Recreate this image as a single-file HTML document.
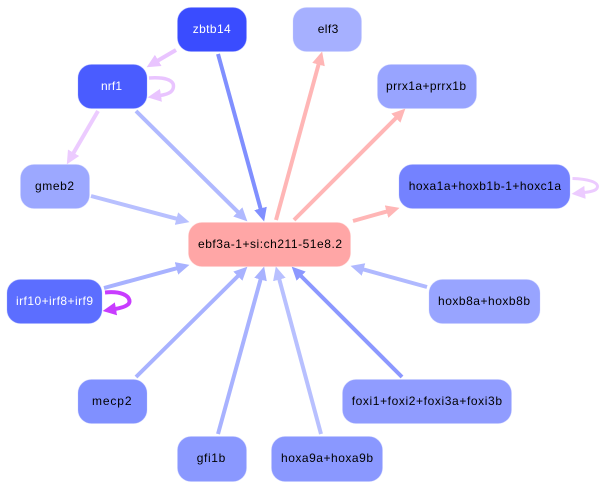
<!DOCTYPE html>
<html><head><meta charset="utf-8"><style>
html,body{margin:0;padding:0;background:#fff}
svg{display:block}
text{font-family:"Liberation Sans",sans-serif;font-size:12px;fill:#000}
rect{stroke-width:1;stroke-opacity:.3}
</style></head><body>
<svg width="601" height="489" viewBox="0 0 601 489" xmlns="http://www.w3.org/2000/svg">
<defs>
<marker id="a1" markerUnits="userSpaceOnUse" markerWidth="15" markerHeight="16" refX="1" refY="8" orient="auto"><path d="M0 1.500L13.500 8L0 14.500z" fill="#e9c4ff"/></marker>
<marker id="a2" markerUnits="userSpaceOnUse" markerWidth="15" markerHeight="16" refX="1" refY="8" orient="auto"><path d="M0 1.500L13.500 8L0 14.500z" fill="#808fff"/></marker>
<marker id="a3" markerUnits="userSpaceOnUse" markerWidth="15" markerHeight="16" refX="1" refY="8" orient="auto"><path d="M0 1.500L13.500 8L0 14.500z" fill="#b0b9ff"/></marker>
<marker id="a4" markerUnits="userSpaceOnUse" markerWidth="15" markerHeight="16" refX="1" refY="8" orient="auto"><path d="M0 1.500L13.500 8L0 14.500z" fill="#eccbff"/></marker>
<marker id="a5" markerUnits="userSpaceOnUse" markerWidth="15" markerHeight="16" refX="1" refY="8" orient="auto"><path d="M0 1.500L13.500 8L0 14.500z" fill="#b8c0ff"/></marker>
<marker id="a6" markerUnits="userSpaceOnUse" markerWidth="15" markerHeight="16" refX="1" refY="8" orient="auto"><path d="M0 1.500L13.500 8L0 14.500z" fill="#ffb6b6"/></marker>
<marker id="a7" markerUnits="userSpaceOnUse" markerWidth="15" markerHeight="16" refX="1" refY="8" orient="auto"><path d="M0 1.500L13.500 8L0 14.500z" fill="#a8b2ff"/></marker>
<marker id="a8" markerUnits="userSpaceOnUse" markerWidth="15" markerHeight="16" refX="1" refY="8" orient="auto"><path d="M0 1.500L13.500 8L0 14.500z" fill="#8c98ff"/></marker>
<marker id="a9" markerUnits="userSpaceOnUse" markerWidth="15" markerHeight="16" refX="1" refY="8" orient="auto"><path d="M0 1.500L13.500 8L0 14.500z" fill="#c83cff"/></marker>
</defs>

<g fill="none" stroke-width="4">
<path d="M176 50L157.4 60.9" stroke="#e9c4ff" marker-end="url(#a1)"/>
<path d="M218 54L260.8 209.4" stroke="#808fff" marker-end="url(#a2)"/>
<path d="M136 111L238.5 212.6" stroke="#b0b9ff" marker-end="url(#a3)"/>
<path d="M98 111L73.1 153.6" stroke="#eccbff" marker-end="url(#a4)"/>
<path d="M91 196L177.4 218.9" stroke="#b8c0ff" marker-end="url(#a5)"/>
<path d="M276 220L318.8 63.6" stroke="#ffb6b6" marker-end="url(#a6)"/>
<path d="M294 220L396.5 117.5" stroke="#ffb6b6" marker-end="url(#a6)"/>
<path d="M353 221L387.5 211.3" stroke="#ffb6b6" marker-end="url(#a6)"/>
<path d="M104 288L177.4 268.1" stroke="#a8b2ff" marker-end="url(#a7)"/>
<path d="M136 377L238.5 275.5" stroke="#a8b2ff" marker-end="url(#a7)"/>
<path d="M218 434L260.8 278.6" stroke="#a8b2ff" marker-end="url(#a7)"/>
<path d="M321 434L279.1 278.6" stroke="#b8c0ff" marker-end="url(#a5)"/>
<path d="M402 377L300.5 275.5" stroke="#8c98ff" marker-end="url(#a8)"/>
<path d="M427 287L362.6 269.2" stroke="#b0b9ff" marker-end="url(#a3)"/>
<path d="M149 78C165 77 173.500 80 173.500 86C173.500 91 170 94 160 95.500" stroke="#e9c4ff" stroke-width="3.500" marker-end="url(#a1)"/>
<path d="M572.500 178.500C588 179 597.500 182 597.500 186.500C597.500 190 593 191.500 584 192.500" stroke="#eccbff" stroke-width="3" marker-end="url(#a4)"/>
<path d="M105 292.500C120 291 129.500 295 129.500 301.500C129.500 305 124 307.500 115 309" stroke="#c83cff" stroke-width="4" marker-end="url(#a9)"/>
</g>

<rect x="177.5" y="7.5" width="69" height="44" rx="13.5" fill="#3a4cff" stroke="#8a96ff"/>
<rect x="78" y="64.5" width="69" height="44" rx="13.5" fill="#4a5cff" stroke="#929eff"/>
<rect x="20.5" y="164.5" width="69" height="44" rx="13.5" fill="#9ca8ff" stroke="#c4cbff"/>
<rect x="188.5" y="222.5" width="162" height="44" rx="13.5" fill="#ffa6a6" stroke="#ffc4c4"/>
<rect x="293" y="7.5" width="68.5" height="44" rx="13.5" fill="#a6b0ff" stroke="#c8ceff"/>
<rect x="377.5" y="64.5" width="99" height="44" rx="13.5" fill="#98a4ff" stroke="#c0c8ff"/>
<rect x="399" y="164.5" width="171" height="44" rx="13.5" fill="#7482ff" stroke="#b0baff"/>
<rect x="7" y="279.5" width="95" height="44" rx="13.5" fill="#5c6eff" stroke="#a0acff"/>
<rect x="78" y="379.5" width="69" height="44" rx="13.5" fill="#8090ff" stroke="#b8c0ff"/>
<rect x="177.5" y="436.5" width="69" height="45" rx="13.5" fill="#8a98ff" stroke="#bcc4ff"/>
<rect x="271.5" y="436.5" width="111" height="45" rx="13.5" fill="#8a98ff" stroke="#bcc4ff"/>
<rect x="342.5" y="379.5" width="169" height="44" rx="13.5" fill="#909cff" stroke="#c0c8ff"/>
<rect x="429" y="279.5" width="111" height="44" rx="13.5" fill="#98a4ff" stroke="#c0c8ff"/>

<text x="192.7" y="33" textLength="38" style="fill:#fff">zbtb14</text>
<text x="101" y="90" textLength="21" style="fill:#fff">nrf1</text>
<text x="35" y="190" textLength="39">gmeb2</text>
<text x="198" y="248" textLength="144">ebf3a-1+si:ch211-51e8.2</text>
<text x="317.7" y="33" textLength="20.6">elf3</text>
<text x="386" y="90" textLength="80">prrx1a+prrx1b</text>
<text x="408.700" y="190" textLength="152.300">hoxa1a+hoxb1b-1+hoxc1a</text>
<text x="16" y="305" textLength="77" style="fill:#fff">irf10+irf8+irf9</text>
<text x="92" y="405" textLength="39.500">mecp2</text>
<text x="196.700" y="462" textLength="28.600">gfi1b</text>
<text x="281" y="462" textLength="92">hoxa9a+hoxa9b</text>
<text x="351.700" y="405" textLength="150.300">foxi1+foxi2+foxi3a+foxi3b</text>
<text x="438" y="305" textLength="92">hoxb8a+hoxb8b</text>
</svg>
</body></html>
